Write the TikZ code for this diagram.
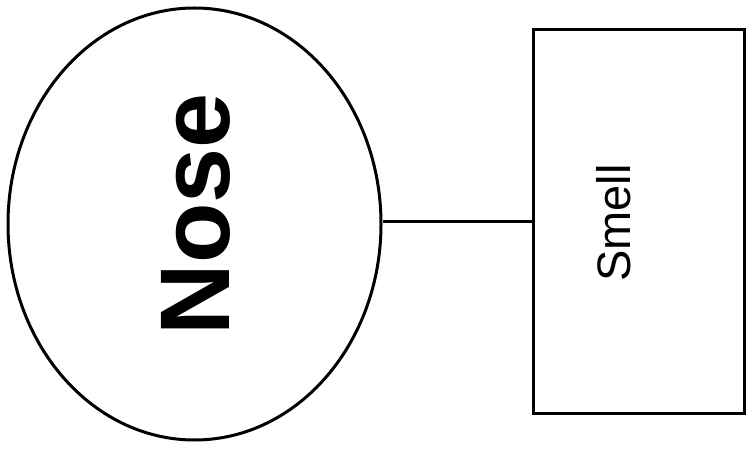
\documentclass[tikz,border=0pt]{standalone}
\usepackage{fontspec}
\setmainfont{Liberation Sans}
\usetikzlibrary{shapes.geometric}
\begin{document}
\begin{tikzpicture}[x=1pt,y=1pt,
  organ/.style={draw=black,line width=3pt,ellipse,minimum width=373pt,minimum height=432pt,inner sep=0pt},
  sense/.style={draw=black,line width=3pt,rectangle,minimum width=211pt,minimum height=383pt,inner sep=0pt},
  link/.style={draw=black,line width=3pt}]
\useasboundingbox (0,0) rectangle (746,458);
\node[organ] (nose) at (194.5,234) {};
\node[rotate=90,font=\fontsize{99}{99}\selectfont\bfseries] (nosetxt) at (196,244) {Nose};
\node[sense] (smell) at (638.5,236.5) {};
\node[rotate=90,font=\fontsize{47}{47}\selectfont] (smelltxt) at (614,235) {Smell};
\draw[link] (smell.west) -- (smell.west -| nose.east);
\end{tikzpicture}
\end{document}
